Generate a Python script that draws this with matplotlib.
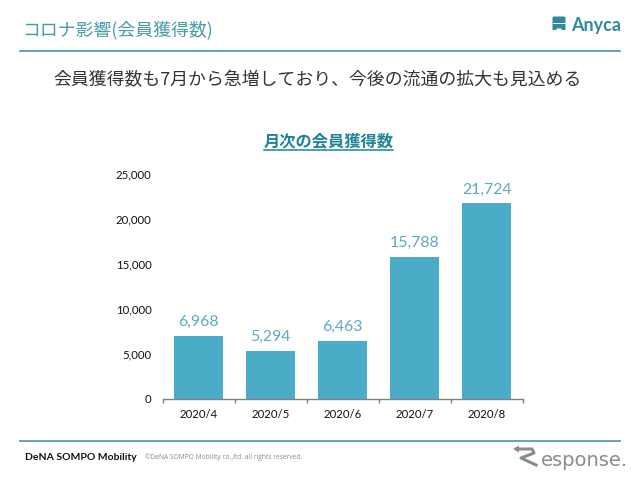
import matplotlib
matplotlib.use("Agg")
import matplotlib.pyplot as plt
from matplotlib.patches import FancyBboxPatch, Polygon

plt.rcParams['font.family'] = ['Noto Sans CJK JP', 'DejaVu Sans']

# chart data
months = ['2020/4', '2020/5', '2020/6', '2020/7', '2020/8']
members = [6968, 5294, 6463, 15788, 21724]
y_ticks = [0, 5000, 10000, 15000, 20000, 25000]

title = 'コロナ影響(会員獲得数)'
headline = '会員獲得数も7月から急増しており、今後の流通の拡大も見込める'
chart_title = '月次の会員獲得数'

W, H = 640, 479
TEAL = '#4aacc6'
HEAD = '#4a9aa8'
RULE = '#5a9fa8'
LOGO = '#2f8b99'
GREY = '#8c8c8c'

fig = plt.figure(figsize=(W / 100, H / 100), dpi=100, facecolor='white')

# full figure overlay in pixel coords for the slide furniture
bg = fig.add_axes([0, 0, 1, 1])
bg.set_xlim(0, W)
bg.set_ylim(H, 0)
bg.axis('off')

bg.plot([20, 620], [51, 51], color=RULE, lw=1.3)
bg.plot([20, 620], [440.5, 440.5], color=RULE, lw=1.3)

bg.text(22, 30, title, fontsize=12.9, color=HEAD, va='center', ha='left')
bg.text(318, 80, headline, fontsize=12.85, color='#333333', va='center', ha='center')
bg.text(328.5, 141, chart_title, fontsize=11.7, color='#1f8496', fontweight='bold',
        va='center', ha='center')
bg.plot([264, 393], [149.5, 149.5], color='#1f8496', lw=1.1)

# Anyca logo
bg.add_patch(FancyBboxPatch((554, 18), 10, 9, boxstyle='round,pad=1.5', color=LOGO, lw=0))
bg.plot([553, 565], [23, 23], color='white', lw=0.7)
bg.add_patch(FancyBboxPatch((553, 28), 3, 1.5, boxstyle='round,pad=0.5', color=LOGO, lw=0))
bg.add_patch(FancyBboxPatch((562, 28), 3, 1.5, boxstyle='round,pad=0.5', color=LOGO, lw=0))
bg.text(571, 25.5, 'Anyca', fontsize=13, color=LOGO, fontweight='bold',
        family=['Lato', 'DejaVu Sans'], va='center', ha='left')

# footer text
bg.text(25, 457, 'DeNA SOMPO Mobility', fontsize=7.5, color='#111111', fontweight='bold',
        family=['Lato', 'DejaVu Sans'], va='center', ha='left')
bg.text(145, 457.5, '©DeNA SOMPO Mobility co.,ltd. all rights reserved.', fontsize=4.8,
        color='#8a8a8a', family=['Open Sans', 'DejaVu Sans'], va='center', ha='left')

# Response mark: arrow-topped R plus the word
bg.plot([517, 532, 534, 521, 536], [449, 449, 453, 458, 465], color=GREY, lw=2.2,
        solid_joinstyle='round')
bg.add_patch(Polygon([(513, 449), (519, 445.5), (519, 452.5)], color=GREY, lw=0))
bg.text(628, 460, 'esponse.', fontsize=14, color=GREY, family=['DejaVu Sans'],
        va='center', ha='right')

# bar chart
ax = fig.add_axes([162.5 / W, 1 - 398.6 / H, (523 - 162.5) / W, (398.6 - 174) / H])
ax.set_facecolor('none')
positions = range(len(months))
bars = ax.bar(positions, members, width=0.68, color=TEAL)
ax.set_xlim(-0.5, len(months) - 0.5)
ax.set_ylim(0, 25000)

ax.set_yticks(y_ticks)
ax.set_yticklabels([f'{v:,}' for v in y_ticks], fontsize=8.2, color='#111111',
                   family=['Lato', 'DejaVu Sans'])
ax.set_xticks(positions)
ax.set_xticklabels(months, fontsize=8.2, color='#111111',
                   family=['Lato', 'DejaVu Sans'])
ax.tick_params(axis='y', length=0, pad=8)
ax.tick_params(axis='x', length=0, pad=7.5)

# boundary ticks between the categories
ax.set_xticks([p - 0.5 for p in range(len(months) + 1)], minor=True)
ax.tick_params(axis='x', which='minor', length=3, width=1, color='#808080', direction='out')

for side in ['top', 'right', 'left']:
    ax.spines[side].set_visible(False)
ax.spines['bottom'].set_color('#808080')
ax.spines['bottom'].set_linewidth(1)

ax.bar_label(bars, labels=[f'{v:,}' for v in members], padding=5, fontsize=11.4,
             color='#5fa9bf', family=['Lato', 'DejaVu Sans'])

fig.savefig('out.png', dpi=100)
